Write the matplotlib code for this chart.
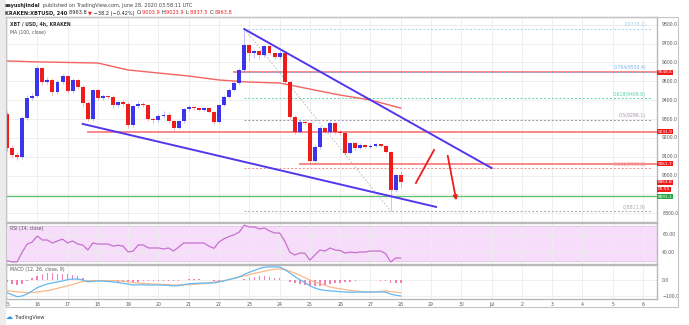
import numpy as np
import matplotlib.pyplot as plt
from matplotlib.patches import Rectangle

W, H = 689, 325

# 4h candles, Jun 15 00:00 .. Jun 28 00:00
opens = [9327, 9146, 9109, 9098, 9305, 9411, 9422, 9570, 9496, 9507,
         9443, 9496, 9528, 9448, 9507, 9470, 9385, 9300, 9454, 9411,
         9422, 9417, 9374, 9390, 9380, 9268, 9369, 9380, 9374, 9300,
         9295, 9316, 9321, 9289, 9252, 9289, 9353, 9364, 9358, 9348,
         9358, 9337, 9284, 9374, 9417, 9454, 9491, 9560, 9692, 9650,
         9661, 9639, 9687, 9650, 9629, 9650, 9496, 9311, 9231, 9284,
         9279, 9077, 9152, 9252, 9231, 9279, 9231, 9228, 9120, 9173,
         9146, 9162, 9152, 9155, 9165, 9157, 9125, 8924, 9003.9]
closes = [9146, 9109, 9098, 9305, 9411, 9422, 9570, 9496, 9507, 9443,
          9496, 9528, 9448, 9507, 9470, 9385, 9300, 9454, 9411, 9422,
          9417, 9374, 9390, 9380, 9268, 9369, 9380, 9374, 9300, 9295,
          9316, 9321, 9289, 9252, 9289, 9353, 9364, 9358, 9348, 9358,
          9337, 9284, 9374, 9417, 9454, 9491, 9560, 9692, 9650, 9661,
          9639, 9687, 9650, 9629, 9650, 9496, 9311, 9231, 9284, 9279,
          9077, 9152, 9252, 9231, 9279, 9231, 9228, 9120, 9173, 9146,
          9162, 9152, 9155, 9165, 9157, 9125, 8924, 9002.0, 8963.8]
highs = [9345, 9160, 9125, 9315, 9425, 9440, 9580, 9575, 9525, 9515,
         9505, 9540, 9535, 9515, 9512, 9480, 9395, 9460, 9460, 9432,
         9430, 9425, 9398, 9400, 9390, 9375, 9395, 9390, 9380, 9310,
         9325, 9340, 9330, 9295, 9295, 9360, 9375, 9370, 9365, 9366,
         9364, 9342, 9380, 9425, 9462, 9500, 9570, 9778, 9700, 9672,
         9668, 9695, 9692, 9655, 9660, 9660, 9500, 9320, 9300, 9300,
         9285, 9160, 9265, 9260, 9290, 9285, 9240, 9235, 9180, 9180,
         9175, 9170, 9165, 9172, 9170, 9162, 9130, 9010, 9023.9]
lows = [9130, 9093, 9083, 9090, 9295, 9400, 9415, 9480, 9485, 9425,
        9435, 9488, 9440, 9440, 9460, 9370, 9290, 9290, 9400, 9400,
        9405, 9360, 9365, 9370, 9255, 9260, 9360, 9365, 9290, 9280,
        9285, 9305, 9280, 9240, 9245, 9280, 9345, 9350, 9340, 9342,
        9330, 9275, 9278, 9368, 9410, 9448, 9485, 9550, 9610, 9625,
        9620, 9630, 9640, 9620, 9620, 9485, 9300, 9220, 9225, 9270,
        9065, 9070, 9140, 9225, 9225, 9222, 9215, 9110, 9112, 9135,
        9140, 9145, 9145, 9150, 9150, 9118, 8812, 8915, 8937.5]

rsi = [30.3, 29, 29, 40, 49.4, 51.7, 58.6, 54, 54, 50.6,
       52.9, 55, 50.6, 52.9, 49.4, 48.3, 42.6, 50.6, 49.4, 49.4,
       49.4, 47, 48, 47, 40.3, 41.4, 48.3, 48.3, 44.9, 44.9,
       44.9, 43.7, 44.9, 41.4, 46, 50.6, 50.6, 50.6, 50.6, 50.6,
       47, 44.5, 51.7, 55.5, 58, 60, 63, 71, 68.9, 68.9,
       66.6, 67.7, 64.3, 62, 62, 53, 40.3, 36.9, 39.1, 39,
       31.1, 36.9, 42.6, 41.4, 44.9, 42.6, 42, 39, 40.3, 39.5,
       40.3, 40.3, 41.4, 41.4, 41.4, 38.5, 28.9, 33.4, 33.4]

macd = [-80, -92, -104, -100, -87, -68, -48, -35, -25, -18,
        -12, -6, 2, 6, 6, 0, -12, -8, -6, -7,
        -9, -12, -16, -21, -26, -31, -30, -30, -31, -32,
        -31, -32, -34, -37, -35, -29, -24, -22, -20, -19,
        -19, -18, -12, -5, 3, 10, 19, 35, 48, 60,
        72, 80, 82, 82, 81, 65, 45, 22, 2, -15,
        -37, -50, -60, -65, -68, -70, -73, -75, -76, -76,
        -75, -75, -75, -75, -75, -76, -88, -95, -100]
signal = [-67, -70, -74, -77, -79, -78, -75, -70, -67, -60,
          -52, -44, -37, -28, -18, -10, -5, -4, -4, -4,
          -4, -4, -5, -8, -12, -17, -19, -21, -23, -25,
          -26, -28, -29, -31, -31, -30, -29, -27, -25, -22,
          -17, -13, -8, -4, 3, 12, 20, 26, 33, 42,
          48, 55, 62, 67, 69, 66, 55, 43, 30, 15,
          0, -15, -22, -33, -44, -50, -55, -60, -65, -68,
          -72, -75, -75, -73, -71, -69, -72, -76, -79]

ma_idx = list(range(0, 79, 6))
ma_vals = [9608, 9603, 9600, 9597, 9560, 9544, 9528, 9507, 9496, 9491,
           9459, 9427, 9401, 9358]

day_labels = ['15', '16', '17', '18', '19', '20', '21', '22', '23', '24', '25',
              '26', '27', '28', '29', '30', 'Jul', '2', '3', '4', '5', '6']

price_ticks = [9800, 9700, 9600, 9500, 9400, 9300, 9200, 9100, 9000, 8800]

fib_levels = [1, 0.764, 0.618, 0.5, 0.236, 0]
fib_prices = [9778.1, 9550.4, 9409.8, 9296.1, 9039.5, 8811.9]
fib_colors = ['#9fd3ee', '#74b6ea', '#57cfa6', '#a590a5', '#f28b8b', '#a8a8a8']

red_levels = [9548.6, 9231.9, 9061.7]
red_starts = [45, 16, 58]
support = 8891.1
last_price = 8963.8
countdown = '05:59'

trend_upper = [(47, 9777), (96, 9040)]
trend_lower = [(15, 9274), (85, 8834)]
fib_trend = [(47, 9778.1), (76, 8811.9)]
arrow_up = [(81.0, 8961), (84.6, 9136)]
arrow_down = [(87.2, 9120), (89.1, 8854)]

UP, DOWN = '#3b35ee', '#f01c1c'
FS = 3.3

def rect(x0, y0, x1, y1):
    return [x0 / W, 1 - y1 / H, (x1 - x0) / W, (y1 - y0) / H]

fig = plt.figure(figsize=(W / 100, H / 100), dpi=100)
fig.patch.set_facecolor('white')
fig.add_artist(Rectangle((0, 0), 5 / W, 1, transform=fig.transFigure,
                         color='#ececec', zorder=0))
fig.add_artist(Rectangle((6 / W, 1 - 307 / H), 672 / W, 290 / H,
                         transform=fig.transFigure, fill=False,
                         ec='#c4c4c4', lw=0.8))

x0, x1 = -0.2, 128.76
days = np.arange(0, 22) * 6

ax = fig.add_axes(rect(6, 17, 657, 222))
ax_rsi = fig.add_axes(rect(6, 223, 657, 264), sharex=ax)
ax_m = fig.add_axes(rect(6, 265, 657, 299), sharex=ax)

for a in (ax, ax_rsi, ax_m):
    a.set_xlim(x0, x1)
    a.set_xticks(days)
    a.tick_params(length=0, labelbottom=False, labelleft=False)
    a.grid(True, color='#ececec', lw=0.6)
    a.set_axisbelow(True)
    for s in a.spines.values():
        s.set_color('#b8b8b8')
        s.set_linewidth(1.0)
    a.spines['left'].set_visible(False)

# ---- price pane
ax.set_ylim(8754, 9841)
ax.set_yticks(np.arange(8800, 9900, 100))
idx = np.arange(len(opens))
o = np.array(opens); c = np.array(closes)
cols = [UP if cc >= oo else DOWN for oo, cc in zip(o, c)]
ax.vlines(idx, lows, highs, colors=cols, lw=0.5, alpha=0.45, zorder=3)
body = np.maximum(np.abs(c - o), 4)
ax.bar(idx, body, bottom=np.minimum(o, c), width=0.78, color=cols, zorder=4)

ax.plot(ma_idx, ma_vals, color='#f26464', lw=1.0, zorder=3)

for lv, st in zip(red_levels, red_starts):
    ax.plot([st, x1], [lv, lv], color='#f46a6a', lw=1.3, alpha=0.85, zorder=2)
ax.axhline(support, color='#5cbf66', lw=0.9, zorder=2)

for lv, pr, col in zip(fib_levels, fib_prices, fib_colors):
    ax.plot([47, 127.5], [pr, pr], color=col, lw=0.7, ls=(0, (2, 2)), zorder=2)
    ax.text(126.6, pr + 8, f'{lv}({pr})', color=col, fontsize=FS,
            ha='right', va='bottom', zorder=5)
(fa, fb) = fib_trend
ax.plot([fa[0], fb[0]], [fa[1], fb[1]], color='#b5b5b5', lw=0.6,
        ls=(0, (2, 2)), zorder=2)

for tl in (trend_upper, trend_lower):
    ax.plot([tl[0][0], tl[1][0]], [tl[0][1], tl[1][1]], color='#5237ec',
            lw=1.4, zorder=5)

ax.plot([arrow_up[0][0], arrow_up[1][0]], [arrow_up[0][1], arrow_up[1][1]],
        color='#f01c1c', lw=1.3, zorder=6)
ax.annotate('', xy=arrow_down[1], xytext=arrow_down[0],
            arrowprops=dict(arrowstyle='->', color='#f01c1c', lw=1.3,
                            mutation_scale=6), zorder=6)

ytr = ax.get_yaxis_transform()
for p in price_ticks:
    ax.text(1.008, p, f'{p:.1f}', transform=ytr, fontsize=FS, color='#555555',
            va='center', ha='left', clip_on=False)

def tag(a, y, s, col):
    a.text(1.0015, y, s, transform=a.get_yaxis_transform(), fontsize=FS - 0.2,
           color='white', va='center', ha='left', clip_on=False, zorder=10,
           bbox=dict(boxstyle='square,pad=0.12', fc=col, ec='none'))

for lv in red_levels:
    tag(ax, lv, f'{lv:.1f}', '#f01c1c')
tag(ax, last_price, f'{last_price:.1f}', '#f01c1c')
tag(ax, last_price - 36, countdown, '#f01c1c')
tag(ax, support - 3, f'{support:.1f}', '#27a844')

ax.text(0.006, 0.975, 'XBT / USD, 4h, KRAKEN', transform=ax.transAxes,
        fontsize=FS, color='#333333', va='top', weight='bold')
ax.text(0.006, 0.935, 'MA (100, close)', transform=ax.transAxes,
        fontsize=FS, color='#555555', va='top')

# ---- RSI pane
ax_rsi.set_ylim(26.6, 73.4)
ax_rsi.set_yticks([40, 60])
ax_rsi.axhspan(30, 70, color='#f6defa', zorder=0)
for lv in (30, 70):
    ax_rsi.axhline(lv, color='#c8a5cc', lw=0.5, ls=(0, (2, 2)))
ax_rsi.plot(idx, rsi, color='#c86fd0', lw=0.9, zorder=3)
ax_rsi.text(0.006, 0.93, 'RSI (14, close)', transform=ax_rsi.transAxes,
            fontsize=FS, color='#555555', va='top')
for v in (60, 40):
    ax_rsi.text(1.008, v, f'{v:.2f}', transform=ax_rsi.get_yaxis_transform(),
                fontsize=FS, color='#555555', va='center', clip_on=False)

# ---- MACD pane
ax_m.set_ylim(-118.75, 93.75)
ax_m.set_yticks([-100, 0])
hist = np.array(macd) - np.array(signal)
ax_m.bar(idx, hist, width=0.32, color='#f36aa6', alpha=0.85, zorder=2)
ax_m.plot(idx, signal, color='#f9b98a', lw=0.9, zorder=3)
ax_m.plot(idx, macd, color='#63b9f0', lw=0.9, zorder=4)
ax_m.text(0.006, 0.93, 'MACD (12, 26, close, 9)', transform=ax_m.transAxes,
          fontsize=FS, color='#555555', va='top')
for v in (0, -100):
    ax_m.text(1.008, v, f'{v:.1f}'.replace('-', '\u2212'),
              transform=ax_m.get_yaxis_transform(), fontsize=FS,
              color='#555555', va='center', clip_on=False)
for d, lab in zip(days, day_labels):
    ax_m.text(d, -0.08, lab, transform=ax_m.get_xaxis_transform(),
              fontsize=FS, color='#555555', ha='center', va='top',
              clip_on=False)

# ---- header
fig.canvas.draw()
rend = fig.canvas.get_renderer()

def seq(x, y, parts):
    for s, col, w in parts:
        t = fig.text(x / W, 1 - y / H, s, fontsize=FS + 0.3, color=col,
                     weight=w, va='center', ha='left')
        bb = t.get_window_extent(renderer=rend)
        x += bb.width

seq(5, 6, [('aayushjindal', '#222222', 'bold'),
           (' published on TradingView.com, June 28, 2020 03:58:11 UTC',
            '#444444', 'normal')])
seq(5, 13, [('KRAKEN:XBTUSD, 240 ', '#222222', 'bold'),
            ('8963.8 ', '#222222', 'normal'),
            ('\u25bc', '#f01c1c', 'normal'),
            (' \u221238.2 (\u22120.42%) ', '#222222', 'normal'),
            ('O:', '#222222', 'normal'), ('9003.9 ', '#f01c1c', 'normal'),
            ('H:', '#222222', 'normal'), ('9023.9 ', '#f01c1c', 'normal'),
            ('L:', '#222222', 'normal'), ('8937.5 ', '#f01c1c', 'normal'),
            ('C:', '#222222', 'normal'), ('8963.8', '#f01c1c', 'normal')])

fig.text(6 / W, 1 - 317 / H, '\u2601', fontsize=5, color='#2196f3',
         va='center', ha='left')
fig.text(14 / W, 1 - 317 / H, 'TradingView', fontsize=FS + 0.3,
         color='#333333', va='center', ha='left')

fig.savefig('out.png', dpi=100)
